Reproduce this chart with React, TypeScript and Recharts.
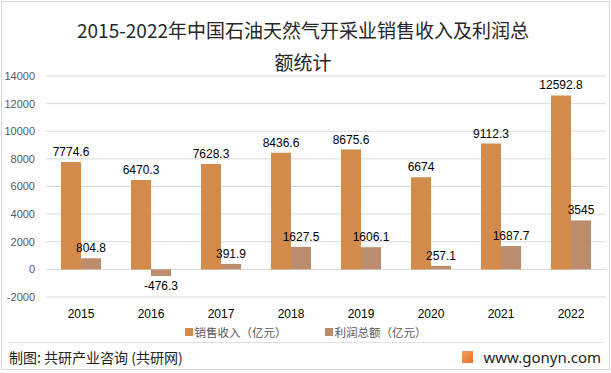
import { Bar, BarChart, CartesianGrid, LabelList, XAxis, YAxis } from "recharts";

const years = ["2015", "2016", "2017", "2018", "2019", "2020", "2021", "2022"];
const revenue = [7774.6, 6470.3, 7628.3, 8436.6, 8675.6, 6674, 9112.3, 12592.8];
const profit = [804.8, -476.3, 391.9, 1627.5, 1606.1, 257.1, 1687.7, 3545];
const yTicks = [-2000, 0, 2000, 4000, 6000, 8000, 10000, 12000, 14000];
const seriesNames = ["销售收入（亿元）", "利润总额（亿元）"];

const data = years.map((year, i) => ({
  year,
  revenue: revenue[i],
  profit: profit[i],
}));

const ORANGE = "#D38B4C";
const BROWN = "#BC8D6D";
const font = "'Noto Sans CJK SC', 'Noto Sans', sans-serif";
const numFont = "'Liberation Sans', sans-serif";

export default function App() {
  return (
    <div
      style={{
        position: "absolute",
        left: 0,
        top: 0,
        width: 611,
        height: 373,
        background: "#fff",
        fontFamily: font,
      }}
    >
      <div
        style={{
          position: "absolute",
          left: 1,
          top: 1,
          width: 607,
          height: 367,
          border: "1px solid #d9d9d9",
        }}
      />
      <div
        style={{
          position: "absolute",
          top: 14,
          left: 0,
          width: 606,
          textAlign: "center",
          fontSize: 19,
          lineHeight: "32px",
          color: "#262626",
        }}
      >
        2015-2022年中国石油天然气开采业销售收入及利润总
        <br />
        额统计
      </div>
      <div style={{ position: "absolute", left: 0, top: 0 }}>
        <BarChart
          width={611}
          height={340}
          data={data}
          margin={{ top: 76, right: 5, left: 0, bottom: 18 }}
          barGap={0}
          barSize={20}
        >
          <CartesianGrid vertical={false} stroke="#d9d9d9" />
          <XAxis
            dataKey="year"
            height={25}
            axisLine={false}
            tickLine={false}
            tickMargin={6}
            tick={{ fontSize: 12, fill: "#000", fontFamily: numFont }}
          />
          <YAxis
            width={46}
            domain={[-2000, 14000]}
            ticks={yTicks}
            axisLine={false}
            tickLine={false}
            tickMargin={5}
            tick={{ fontSize: 11, fill: "#595959", fontFamily: numFont }}
          />
          <Bar dataKey="revenue" fill={ORANGE} isAnimationActive={false}>
            <LabelList
              dataKey="revenue"
              position="top"
              offset={6}
              style={{ fontSize: 12, fill: "#000", fontFamily: numFont }}
            />
          </Bar>
          <Bar dataKey="profit" fill={BROWN} isAnimationActive={false}>
            <LabelList
              dataKey="profit"
              position="top"
              offset={6}
              style={{ fontSize: 12, fill: "#000", fontFamily: numFont }}
            />
          </Bar>
        </BarChart>
      </div>
      <div
        style={{
          position: "absolute",
          top: 324,
          left: 0,
          width: 611,
          display: "flex",
          justifyContent: "center",
          gap: 38,
          fontSize: 11.5,
          color: "#595959",
        }}
      >
        {seriesNames.map((name, i) => (
          <div key={name} style={{ display: "flex", alignItems: "center" }}>
            <span
              style={{
                display: "inline-block",
                width: 8,
                height: 8,
                background: i === 0 ? ORANGE : BROWN,
                marginRight: 2,
              }}
            />
            {name}
          </div>
        ))}
      </div>
      <div
        style={{
          position: "absolute",
          top: 342,
          left: 8,
          width: 596,
          borderTop: "1px solid #e0e0e0",
        }}
      />
      <div
        style={{
          position: "absolute",
          top: 348,
          left: 9,
          fontSize: 14,
          color: "#222",
          lineHeight: "18px",
        }}
      >
        制图: 共研产业咨询 (共研网)
      </div>
      <div
        style={{
          position: "absolute",
          top: 348,
          right: 10,
          display: "flex",
          alignItems: "center",
          fontSize: 15,
          color: "#222",
          lineHeight: "18px",
          fontFamily: "'Noto Sans', sans-serif",
        }}
      >
        <span
          style={{
            display: "inline-block",
            width: 11,
            height: 12,
            background: "linear-gradient(135deg, #F5A25A, #E8722C)",
            marginRight: 10,
          }}
        />
        www.gonyn.com
      </div>
    </div>
  );
}
